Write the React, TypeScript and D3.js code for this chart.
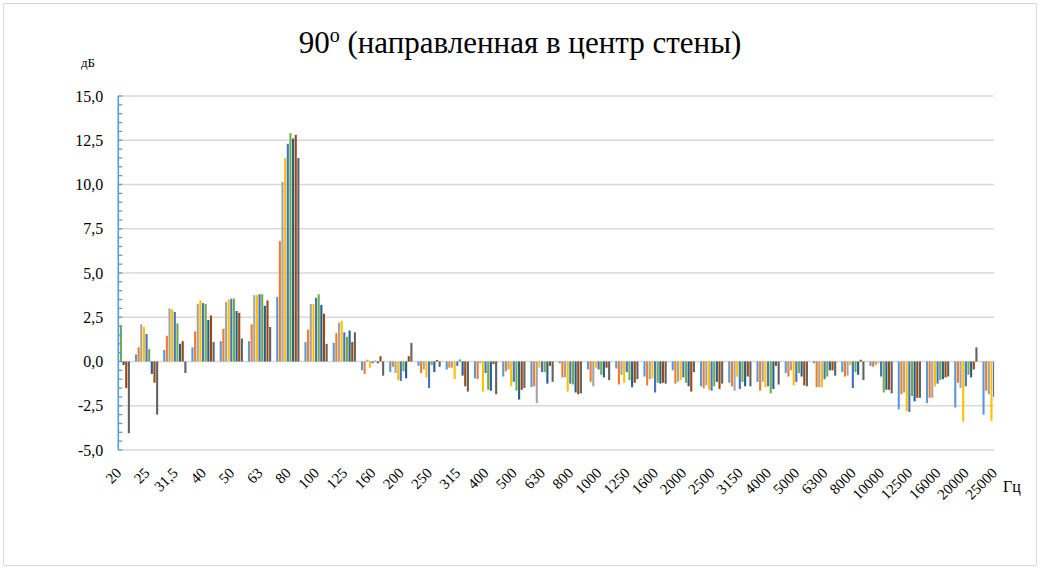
import React, { useEffect, useRef } from 'react';
import * as d3 from 'd3';

// 1/3 octave bands, Hz
const categories = [
  '20', '25', '31,5', '40', '50', '63', '80', '100', '125', '160', '200', '250', '315', '400', '500', '630',
  '800', '1000', '1250', '1600', '2000', '2500', '3150', '4000', '5000', '6300', '8000', '10000', '12500',
  '16000', '20000', '25000',
];

const yTicks = [-5, -2.5, 0, 2.5, 5, 7.5, 10, 12.5, 15];

const seriesColors = ['#5B9BD5', '#ED7D31', '#A5A5A5', '#FFC000', '#4472C4', '#70AD47', '#255E91', '#9E480E', '#636363'];

// null = hidden behind the axis, not readable
const s1 = [null, 0.4, 0.65, 0.8, 1.15, 1.15, 3.65, 1.1, 1.05, -0.5, -0.6, -0.25, -0.45, -0.95, -0.85, -1.45,
  -0.1, -0.45, -0.4, -0.85, -0.5, -1.4, -1.2, -1.15, -0.65, -0.1, -0.6, -0.25, -2.7, -2.35, -2.6, -3.0];
const s2 = [null, 0.8, 1.45, 1.7, 1.85, 2.1, 6.8, 1.8, 1.6, -0.7, -0.3, -0.65, -0.35, -1.0, -0.55, -1.4,
  -0.9, -1.15, -1.3, -1.35, -1.25, -1.5, -1.4, -1.65, -0.85, -1.45, -0.85, -0.3, -1.85, -2.05, -1.2, -1.65];
const s3 = [null, 2.1, 3.0, 3.25, 3.35, 3.75, 10.15, 3.25, 2.2, 0.1, -0.65, -0.45, -0.35, -0.1, -0.45, -2.35,
  -0.9, -1.4, -0.75, -1.0, -1.15, -1.35, -1.65, -1.15, -0.5, -1.45, -0.8, -0.2, -1.75, -2.05, -1.5, -1.85];
const s4 = [null, 1.95, 2.95, 3.45, 3.5, 3.75, 11.5, 3.25, 2.3, -0.35, -1.05, -0.9, -1.0, -1.7, -1.4, -0.35,
  -1.7, -0.35, -1.2, -0.95, -1.05, -1.6, -0.85, -1.45, -1.35, -1.45, -0.2, -0.1, -2.8, -1.4, -3.4, -3.35];
const s5 = [null, 1.55, 2.8, 3.3, 3.55, 3.8, 12.3, 3.6, 1.65, -0.1, -1.1, -1.5, -0.25, -0.65, -1.15, -0.6,
  -1.25, -0.45, -0.6, -1.75, -0.9, -1.65, -1.55, -1.4, -1.15, -1.0, -1.5, -0.85, -2.85, -1.25, -1.4, -2.0];
const s6 = [2.05, 0.7, 2.15, 3.25, 3.55, 3.8, 12.9, 3.8, 1.4, 0.05, -0.55, -0.2, 0.12, -1.6, -1.65, -0.6,
  -1.3, -0.75, -1.05, -1.2, -1.2, -1.4, -1.15, -1.8, -0.65, -0.85, -0.6, -1.75, -1.95, -1.05, -0.75, null];
const s7 = [-0.2, -0.7, 1.0, 2.35, 2.85, 3.15, 12.6, 3.2, 1.75, -0.1, -0.95, -0.6, -0.8, -1.65, -2.15, -1.25,
  -1.75, -0.9, -1.45, -1.25, -1.4, -1.15, -1.4, -1.55, -0.85, -0.5, -0.75, -1.6, -2.25, -1.0, -0.9, null];
const s8 = [-1.5, -1.2, 1.15, 2.6, 2.75, 3.45, 12.8, 2.7, 1.1, 0.3, 0.3, 0.08, -1.4, -0.15, -1.6, -0.25,
  -1.85, -0.35, -1.2, -1.2, -1.7, -1.55, -0.85, -0.25, -1.35, -0.5, 0.1, -1.6, -2.05, -0.9, -0.45, null];
const s9 = [-4.05, -3.0, -0.65, 1.1, 1.3, 1.95, 11.5, 1.0, 1.65, -0.8, 1.05, -0.3, -1.7, -1.85, -1.5, -1.15,
  -1.8, -1.05, -1.0, -1.25, -0.6, -1.25, -1.4, -1.3, -1.4, -0.8, -1.05, -1.8, -2.05, -0.85, 0.8, null];

const seriesValues = [s1, s2, s3, s4, s5, s6, s7, s8, s9];

const serif = "'Liberation Serif', 'DejaVu Serif', serif";

const App = () => {
  const chartRef = useRef<SVGSVGElement>(null);

  useEffect(() => {
    const svg = d3.select(chartRef.current);
    svg.selectAll('*').remove();

    const left = 118.3;
    const right = 994.1;
    const top = 96;
    const bottom = 450;

    const x = d3.scalePoint<string>().domain(categories).range([left, right]);
    const xs = d3.scaleBand<number>()
      .domain(d3.range(seriesValues.length))
      .range([-11.9, 11.9])
      .paddingInner(0.2)
      .paddingOuter(0.1);
    const y = d3.scaleLinear().domain([-5, 15]).range([bottom, top]);
    // Excel style: comma decimal, plain hyphen
    const fmt = (d: number) => d.toFixed(1).replace('.', ',');

    // chart border
    svg.append('rect')
      .attr('x', 3.5).attr('y', 3.5)
      .attr('width', 1033).attr('height', 562)
      .attr('fill', '#fff')
      .attr('stroke', '#D9D9D9');

    // title
    const title = svg.append('text')
      .attr('x', 520).attr('y', 53)
      .attr('text-anchor', 'middle')
      .style('font-family', serif)
      .attr('font-size', 31)
      .attr('fill', '#000');
    title.append('tspan').text('90');
    title.append('tspan').attr('font-size', 20).attr('dy', -11).text('o');
    title.append('tspan').attr('dy', 11).text(' (направленная в центр стены)');

    svg.append('text')
      .attr('x', 88).attr('y', 67)
      .attr('text-anchor', 'middle')
      .style('font-family', serif)
      .attr('font-size', 13)
      .text('дБ');

    svg.append('text')
      .attr('x', 1003).attr('y', 492)
      .style('font-family', serif)
      .attr('font-size', 16)
      .text('Гц');

    // gridlines
    svg.append('g')
      .selectAll('line')
      .data(yTicks)
      .enter()
      .append('line')
      .attr('x1', left).attr('x2', right)
      .attr('y1', d => y(d)).attr('y2', d => y(d))
      .attr('stroke', '#D9D9D9')
      .attr('stroke-width', 1.3);

    // bars
    svg.append('clipPath').attr('id', 'plot-clip')
      .append('rect')
      .attr('x', left).attr('y', 0)
      .attr('width', right - left).attr('height', 569);

    const bars = svg.append('g').attr('clip-path', 'url(#plot-clip)');
    seriesValues.forEach((vals, si) => {
      bars.append('g')
        .attr('fill', seriesColors[si])
        .selectAll('rect')
        .data(vals.map((v, ci) => ({ v, cat: categories[ci] })).filter(d => d.v !== null))
        .enter()
        .append('rect')
        .attr('x', d => (x(d.cat) ?? 0) + (xs(si) ?? 0))
        .attr('width', xs.bandwidth())
        .attr('y', d => y(Math.max(0, d.v as number)))
        .attr('height', d => Math.abs(y(d.v as number) - y(0)));
    });

    // y axis labels
    const yAxis = svg.append('g')
      .attr('transform', `translate(${left - 15},0)`)
      .call(d3.axisLeft(y).tickValues(yTicks).tickSize(0).tickFormat(d => fmt(d as number)));
    yAxis.select('.domain').remove();
    yAxis.attr('font-family', null).attr('font-size', null);
    yAxis.selectAll('text')
      .style('font-family', serif)
      .style('font-size', '16px')
      .attr('fill', '#000')
      .attr('x', 0);

    // y axis line + minor ticks
    svg.append('line')
      .attr('x1', left).attr('x2', left)
      .attr('y1', top).attr('y2', bottom)
      .attr('stroke', '#5B9BD5')
      .attr('stroke-width', 1.6);
    svg.append('g')
      .selectAll('line')
      .data(d3.range(-5, 15.01, 0.5))
      .enter()
      .append('line')
      .attr('x1', left).attr('x2', left + 4)
      .attr('y1', d => y(d)).attr('y2', d => y(d))
      .attr('stroke', '#5B9BD5')
      .attr('stroke-width', 1.3);

    // category labels
    svg.append('g')
      .selectAll('text')
      .data(categories)
      .enter()
      .append('text')
      .attr('transform', d => `translate(${(x(d) ?? 0) + 4},474) rotate(-45)`)
      .attr('text-anchor', 'end')
      .style('font-family', serif)
      .attr('font-size', 15)
      .attr('fill', '#000')
      .text(d => d);
  }, []);

  return (
    <svg ref={chartRef} width={1041} height={569} style={{ position: 'absolute', left: 0, top: 0 }}></svg>
  );
};

export default App;
